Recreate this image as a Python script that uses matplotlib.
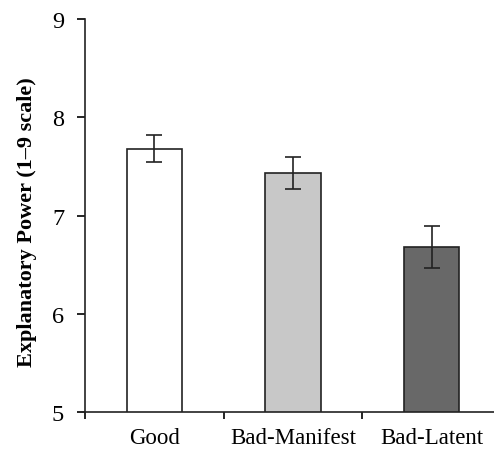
import matplotlib
matplotlib.use("Agg")
import matplotlib.pyplot as plt

categories = ["Good", "Bad-Manifest", "Bad-Latent"]
means = [7.68, 7.43, 6.68]
errors = [0.14, 0.165, 0.21]
colors = ["#ffffff", "#c8c8c8", "#686868"]
yticks = [5, 6, 7, 8, 9]

plt.rcParams['font.family'] = ['Liberation Serif', 'DejaVu Serif']

fig = plt.figure(figsize=(4.94, 4.52), dpi=100)
ax = fig.add_axes([85/494, 39/452, 416/494, 393/452])

x = list(range(len(categories)))
ax.bar(x, means, width=0.40, color=colors, edgecolor="#222222", linewidth=1.2,
       bottom=0, zorder=2)
ax.errorbar(x, means, yerr=errors, fmt='none', ecolor="#222222", elinewidth=1.2,
            capsize=5.6, capthick=1.2, zorder=3)

ax.set_ylim(5, 9)
ax.set_xlim(-0.5, 2.5)
ax.set_yticks(yticks)
ax.set_yticklabels([str(v) for v in yticks], fontsize=17.5)
ax.set_xticks([-0.5, 0.5, 1.5, 2.5])
ax.set_xticklabels([])
ax.set_xticks(x, minor=True)
ax.set_xticklabels(categories, minor=True, fontsize=16.5)
ax.tick_params(axis='x', which='minor', length=0, pad=11)
ax.tick_params(axis='x', which='major', length=5, width=1.2, direction='out')
ax.tick_params(axis='y', length=6, width=1.2, direction='out', pad=9)

for s in ['top', 'right']:
    ax.spines[s].set_visible(False)
for s in ['left', 'bottom']:
    ax.spines[s].set_linewidth(1.2)
    ax.spines[s].set_color("#222222")

ax.set_ylabel("Explanatory Power (1\u20139 scale)", fontsize=16, fontweight='bold')
ax.yaxis.set_label_coords(-0.115, 0.486)

fig.savefig("out.png", dpi=100)
